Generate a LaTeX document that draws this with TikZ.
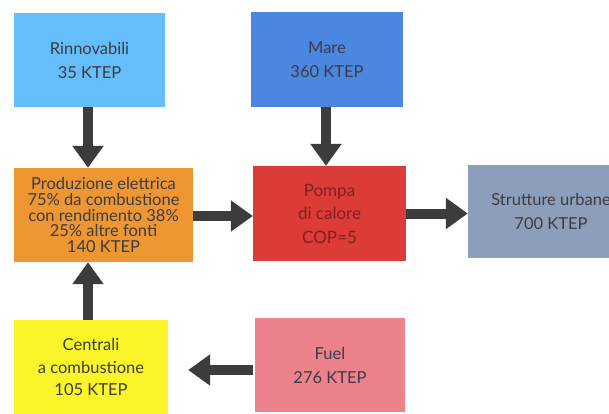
\documentclass[tikz,border=0pt]{standalone}
\usepackage{fontspec}
\setmainfont{Lato}
\usetikzlibrary{arrows.meta}
\definecolor{cRin}{RGB}{100,190,250}
\definecolor{cMare}{RGB}{75,135,225}
\definecolor{cProd}{RGB}{238,150,50}
\definecolor{cPompa}{RGB}{220,60,55}
\definecolor{cStrut}{RGB}{140,158,185}
\definecolor{cCen}{RGB}{250,245,40}
\definecolor{cFuel}{RGB}{235,130,140}
\definecolor{cArrow}{RGB}{60,60,62}
\definecolor{cText}{RGB}{60,60,65}
\definecolor{cPText}{RGB}{130,30,30}
\tikzset{
  box/.style={rectangle, inner sep=0pt, align=center, text=cText,
    font=\fontsize{16.5}{24}\selectfont},
  flow/.style={draw=cArrow, line width=10pt,
    -{Triangle[width=30pt,length=22pt]}},
}
\begin{document}
\begin{tikzpicture}[x=1pt,y=-1pt]
\useasboundingbox (0,0) rectangle (609,414);
\fill[white] (0,0) rectangle (609,414);
\begin{scope}
\clip (0,0) rectangle (609,414);
\node[box, fill=cRin, minimum width=151pt, minimum height=94pt] (rin) at (89.5,60) {Rinnovabili\\35 KTEP};
\node[box, fill=cMare, minimum width=152pt, minimum height=95pt] (mare) at (327,59.5) {Mare\\360 KTEP};
\node[box, fill=cProd, minimum width=179pt, minimum height=94pt,
  font=\fontsize{16.5}{15.8}\selectfont] (prod) at (103.5,215)
  {Produzione elettrica\\75\% da combustione\\con rendimento 38\%\\25\% altre fonti\\140 KTEP};
\node[box, fill=cPompa, minimum width=153pt, minimum height=95pt, text=cPText,
  font=\fontsize{17}{23.5}\selectfont] (pompa) at (329.5,213.5) {Pompa\\di calore\\COP=5};
\node[box, fill=cStrut, minimum width=166pt, minimum height=93pt] (strut) at (551,211.5) {Strutture urbane\\700 KTEP};
\node[box, fill=cCen, minimum width=154pt, minimum height=94pt,
  font=\fontsize{16.5}{22.5}\selectfont] (cen) at (91,367) {Centrali\\a combustione\\105 KTEP};
\node[box, fill=cFuel, minimum width=150pt, minimum height=94pt] (fuel) at (330,365) {Fuel\\276 KTEP};
\end{scope}
\draw[flow] ([xshift=-1.5pt]rin.south) -- ([xshift=-1.5pt]rin.south |- prod.north);
\draw[flow] ([xshift=-1pt]mare.south) -- ([xshift=-1pt]mare.south |- pompa.north);
\draw[flow] ([yshift=-1pt]prod.east) -- ([yshift=-1pt]pompa.west |- prod.east);
\draw[flow] (pompa.east) -- (strut.west |- pompa.east);
\draw[flow] ([xshift=-3pt]cen.north) -- ([xshift=-3pt]cen.north |- prod.south);
\draw[flow, shorten >=20pt, shorten <=2pt] ([yshift=-5pt]fuel.west) -- ([yshift=-5pt]cen.east |- fuel.west);
\end{tikzpicture}
\end{document}
